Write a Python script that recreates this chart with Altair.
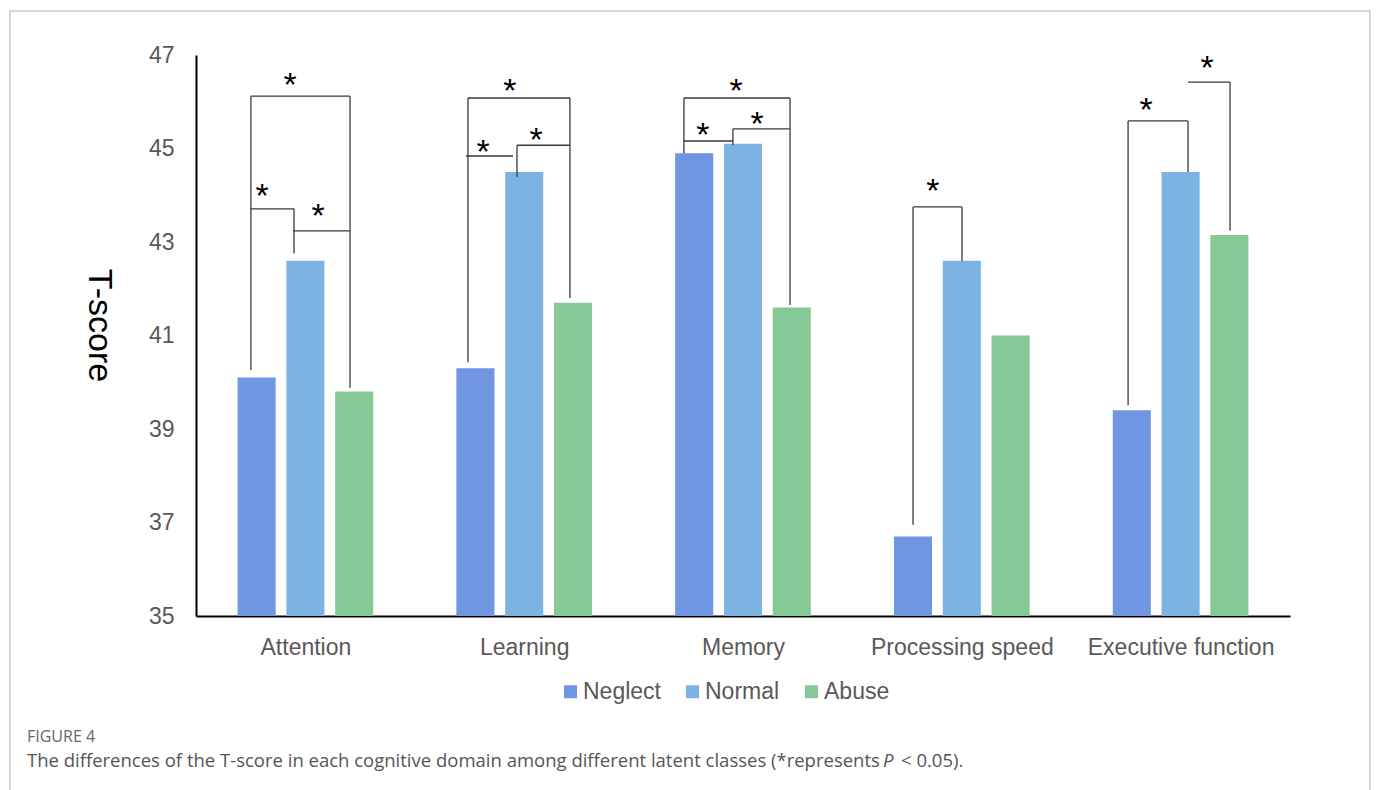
import altair as alt
import pandas as pd

# ---------------- data ----------------
domains = ["Attention", "Learning", "Memory", "Processing speed", "Executive function"]
groups = ["Neglect", "Normal", "Abuse"]
neglect = [40.1, 40.3, 44.9, 36.7, 39.4]
normal = [42.6, 44.5, 45.1, 42.6, 44.5]
abuse = [39.8, 41.7, 41.6, 41.0, 43.15]
colors = ["#7095E1", "#7DB3E2", "#86C997"]

# significance brackets (x in category units, y in T-score units)
bracket_left = [0.251, 0.251, 0.443, 1.243, 1.234, 1.467, 2.230, 2.230, 2.454, 3.277, 4.260, 4.534]
bracket_right = [0.704, 0.448, 0.704, 1.709, 1.449, 1.709, 2.715, 2.454, 2.715, 3.501, 4.534, 4.726]
bracket_level = [46.12, 43.71, 43.24, 46.08, 44.84, 45.07, 46.08, 45.16, 45.42, 43.75, 45.59, 46.42]
left_foot = [40.26, None, None, 40.43, None, 44.39, 44.90, None, 45.07, 36.95, 39.51, None]
right_foot = [39.88, 42.76, None, 41.80, None, None, 41.65, None, None, 42.59, 44.50, 43.24]

star_x = [0.430, 0.302, 0.558, 1.435, 1.312, 1.554, 2.317, 2.468, 2.564, 3.368, 4.342, 4.621]
star_y = [46.42, 44.05, 43.62, 46.29, 44.99, 45.25, 45.35, 46.29, 45.59, 44.16, 45.89, 46.79]

fig_label = "FIGURE 4"
caption_head = ("The differences of the T-score in each cognitive domain among different "
                "latent classes (*represents")
caption_p = "P"
caption_tail = "< 0.05)."

# ---------------- tables ----------------
bar_offset = {"Neglect": -0.223, "Normal": 0.0, "Abuse": 0.223}
bar_half = 0.087
rows = []
for i, d in enumerate(domains):
    for g, vals in zip(groups, [neglect, normal, abuse]):
        c = i + 0.5 + bar_offset[g]
        rows.append({"domain": d, "group": g, "value": vals[i],
                     "x0": c - bar_half, "x1": c + bar_half, "base": 35})
bars_df = pd.DataFrame(rows)

segs = []
for xl, xr, lv, lf, rf in zip(bracket_left, bracket_right, bracket_level, left_foot, right_foot):
    segs.append({"x": xl, "x2": xr, "y": lv, "y2": lv})
    if lf is not None:
        segs.append({"x": xl, "x2": xl, "y": lv, "y2": lf})
    if rf is not None:
        segs.append({"x": xr, "x2": xr, "y": lv, "y2": rf})
seg_df = pd.DataFrame(segs)
star_df = pd.DataFrame({"x": star_x, "y": star_y, "t": ["*"] * len(star_x)})

FONT = "Liberation Sans"
label_expr = ("datum.value < 1 ? 'Attention' : datum.value < 2 ? 'Learning' : "
              "datum.value < 3 ? 'Memory' : datum.value < 4 ? 'Processing speed' : 'Executive function'")

xscale = alt.Scale(domain=[0, 5], nice=False, zero=False)
yscale = alt.Scale(domain=[35, 47], nice=False, zero=False)

x_axis = alt.Axis(values=[0.5, 1.5, 2.5, 3.5, 4.5], labelExpr=label_expr, title=None,
                  grid=False, ticks=False, domainColor="#000000", domainWidth=2,
                  labelFont=FONT, labelFontSize=23, labelColor="#595959", labelPadding=20,
                  labelLimit=0)
y_axis = alt.Axis(values=[35, 37, 39, 41, 43, 45, 47], title="T-score", grid=False, ticks=False,
                  domainColor="#000000", domainWidth=2, labelFont=FONT, labelFontSize=23,
                  labelColor="#595959", labelPadding=22, titleFont=FONT, titleFontSize=34,
                  titleFontWeight="normal", titleColor="#000000", titleAngle=90,
                  titleX=-98, titleY=270, titleAlign="center", titleBaseline="middle")

frame = alt.Chart(pd.DataFrame({"a": [0]})).mark_rect(
    fillOpacity=0, stroke="#cccccc", strokeWidth=1.5
).encode(x=alt.value(-186), x2=alt.value(1174), y=alt.value(-44), y2=alt.value(760))

bars = alt.Chart(bars_df).mark_bar().encode(
    x=alt.X("x0:Q", scale=xscale, axis=x_axis),
    x2="x1:Q",
    y=alt.Y("value:Q", scale=yscale, axis=y_axis),
    y2="base:Q",
    color=alt.Color("group:N", scale=alt.Scale(domain=groups, range=colors),
                    legend=alt.Legend(title=None, orient="none", direction="horizontal",
                                      legendX=363, legendY=625, symbolType="square",
                                      symbolSize=169, symbolStrokeWidth=0, labelFont=FONT,
                                      labelFontSize=23, labelColor="#595959", labelOffset=1,
                                      columnPadding=20, padding=0)),
)

lines = alt.Chart(seg_df).mark_rule(color="#3a3a3a", strokeWidth=1.3).encode(
    x=alt.X("x:Q", scale=xscale), x2="x2:Q",
    y=alt.Y("y:Q", scale=yscale), y2="y2:Q",
)

stars = alt.Chart(star_df).mark_text(
    font=FONT, fontSize=34, color="#000000", baseline="alphabetic", align="center", dy=14
).encode(x=alt.X("x:Q", scale=xscale), y=alt.Y("y:Q", scale=yscale), text="t:N")

fig_txt = alt.Chart(pd.DataFrame({"t": [fig_label]})).mark_text(
    font="Open Sans", fontSize=16, color="#666666", align="left", baseline="middle"
).encode(x=alt.value(27 - 196), y=alt.value(737 - 55), text="t:N")

cap_head = alt.Chart(pd.DataFrame({"t": [caption_head]})).mark_text(
    font="Open Sans", fontSize=18.5, color="#555555", align="left", baseline="middle"
).encode(x=alt.value(27 - 196), y=alt.value(761 - 55), text="t:N")

cap_p = alt.Chart(pd.DataFrame({"t": [caption_p]})).mark_text(
    font="Open Sans", fontSize=18.5, fontStyle="italic", color="#555555", align="left",
    baseline="middle"
).encode(x=alt.value(883 - 196), y=alt.value(761 - 55), text="t:N")

cap_tail = alt.Chart(pd.DataFrame({"t": [caption_tail]})).mark_text(
    font="Open Sans", fontSize=18.5, color="#555555", align="left", baseline="middle"
).encode(x=alt.value(901 - 196), y=alt.value(761 - 55), text="t:N")

chart = alt.layer(frame, bars, lines, stars, fig_txt, cap_head, cap_p, cap_tail).properties(
    width=1094, height=561,
    padding={"left": 196, "top": 55, "right": 86, "bottom": 174},
    autosize=alt.AutoSizeParams(type="none"),
    background="#ffffff",
).configure_view(strokeWidth=0, stroke=None)

chart.save("out.html", embed_options={"renderer": "svg", "actions": False})
